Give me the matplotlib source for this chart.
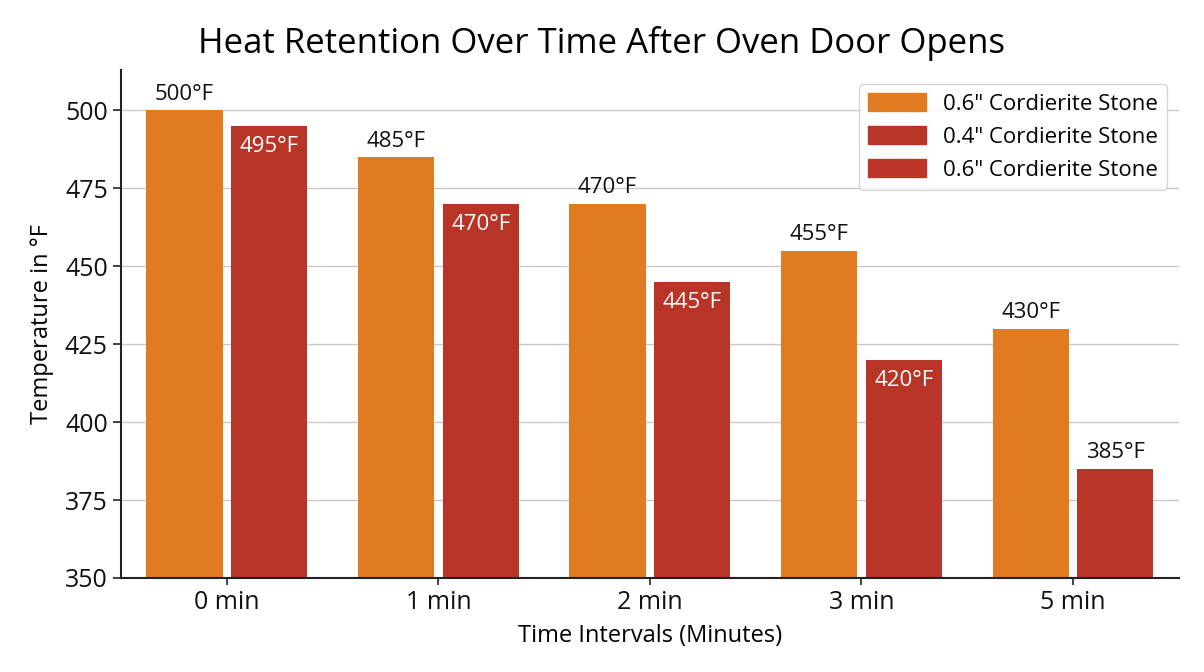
import numpy as np
from matplotlib import pyplot as plt
from matplotlib.patches import Patch

plt.rcParams['font.family'] = ['Open Sans', 'DejaVu Sans']

categories = ['0 min', '1 min', '2 min', '3 min', '5 min']
thick_stone = [500, 485, 470, 455, 430]
thin_stone = [495, 470, 445, 420, 385]
legend_labels = ['0.6" Cordierite Stone', '0.4" Cordierite Stone', '0.6" Cordierite Stone']

orange = '#E07B22'
red = '#B83427'

fig = plt.figure(figsize=(12.04, 6.72), dpi=100)
ax = fig.add_axes([0.1005, 0.14, 0.8785, 0.756])

x = np.arange(len(categories))
w = 0.36
ax.bar(x - 0.2, np.array(thick_stone) - 350, w, bottom=350, color=orange, zorder=2)
ax.bar(x + 0.2, np.array(thin_stone) - 350, w, bottom=350, color=red, zorder=2)

for xi, v in zip(x, thick_stone):
    ax.text(xi - 0.2, v + 1.8, f'{v}°F', ha='center', va='bottom', fontsize=16, color='#111111')
for i, (xi, v) in enumerate(zip(x, thin_stone)):
    if i == len(thin_stone) - 1:
        ax.text(xi + 0.2, v + 1.8, f'{v}°F', ha='center', va='bottom', fontsize=16, color='#111111')
    else:
        ax.text(xi + 0.2, v - 3.2, f'{v}°F', ha='center', va='top', fontsize=16, color='white')

ax.set_xlim(-0.5, 4.5)
ax.set_ylim(350, 513)
ax.set_yticks(np.arange(350, 501, 25))
ax.set_xticks(x)
ax.set_xticklabels(categories)
ax.tick_params(axis='both', labelsize=18, length=6, width=1.2, color='#222222', labelcolor='#111111')
ax.tick_params(axis='x', length=5)
ax.yaxis.grid(True, color='#c8c8c8', linewidth=1, zorder=0)
ax.set_axisbelow(True)
for s in ['top', 'right']:
    ax.spines[s].set_visible(False)
for s in ['left', 'bottom']:
    ax.spines[s].set_linewidth(1.5)
    ax.spines[s].set_color('#222222')

ax.set_ylabel('Temperature in °F', fontsize=17, labelpad=8)
ax.set_xlabel('Time Intervals (Minutes)', fontsize=17, labelpad=7)
fig.suptitle('Heat Retention Over Time After Oven Door Opens', fontsize=25, y=0.962)

handles = [Patch(color=orange), Patch(color=red), Patch(color='#BE3529')]
ax.legend(handles, legend_labels, loc='upper right', fontsize=16, frameon=True,
          edgecolor='#cccccc', fancybox=True, handlelength=2.6, handleheight=0.9,
          labelspacing=0.5, borderaxespad=0, bbox_to_anchor=(0.989, 0.972))

fig.savefig('out.png', dpi=100)
